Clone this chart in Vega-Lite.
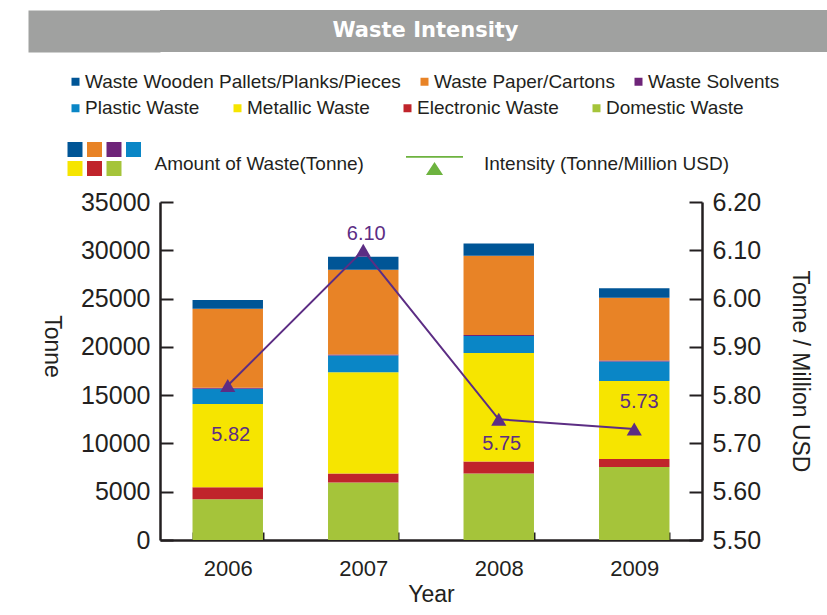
{
  "$schema": "https://vega.github.io/schema/vega-lite/v6.json",
  "background": "white",
  "padding": {"left": 7, "top": 10, "right": 0, "bottom": 0},
  "spacing": 20,
  "resolve": {"legend": {"shape": "independent", "color": "independent"}},
  "datasets": {
    "waste": [
      {"year": "2006", "category": "Domestic Waste", "tonnes": 4220},
      {"year": "2006", "category": "Electronic Waste", "tonnes": 1250},
      {"year": "2006", "category": "Metallic Waste", "tonnes": 8620},
      {"year": "2006", "category": "Plastic Waste", "tonnes": 1580},
      {"year": "2006", "category": "Waste Solvents", "tonnes": 100},
      {"year": "2006", "category": "Waste Paper/Cartons", "tonnes": 8170},
      {"year": "2006", "category": "Waste Wooden Pallets/Planks/Pieces", "tonnes": 920},
      {"year": "2007", "category": "Domestic Waste", "tonnes": 5960},
      {"year": "2007", "category": "Electronic Waste", "tonnes": 930},
      {"year": "2007", "category": "Metallic Waste", "tonnes": 10490},
      {"year": "2007", "category": "Plastic Waste", "tonnes": 1730},
      {"year": "2007", "category": "Waste Solvents", "tonnes": 100},
      {"year": "2007", "category": "Waste Paper/Cartons", "tonnes": 8770},
      {"year": "2007", "category": "Waste Wooden Pallets/Planks/Pieces", "tonnes": 1350},
      {"year": "2008", "category": "Domestic Waste", "tonnes": 6890},
      {"year": "2008", "category": "Electronic Waste", "tonnes": 1250},
      {"year": "2008", "category": "Metallic Waste", "tonnes": 11220},
      {"year": "2008", "category": "Plastic Waste", "tonnes": 1770},
      {"year": "2008", "category": "Waste Solvents", "tonnes": 100},
      {"year": "2008", "category": "Waste Paper/Cartons", "tonnes": 8210},
      {"year": "2008", "category": "Waste Wooden Pallets/Planks/Pieces", "tonnes": 1250},
      {"year": "2009", "category": "Domestic Waste", "tonnes": 7550},
      {"year": "2009", "category": "Electronic Waste", "tonnes": 850},
      {"year": "2009", "category": "Metallic Waste", "tonnes": 8060},
      {"year": "2009", "category": "Plastic Waste", "tonnes": 2020},
      {"year": "2009", "category": "Waste Solvents", "tonnes": 100},
      {"year": "2009", "category": "Waste Paper/Cartons", "tonnes": 6500},
      {"year": "2009", "category": "Waste Wooden Pallets/Planks/Pieces", "tonnes": 1000}
    ],
    "intensity": [
      {"year": "2006", "intensity": 5.82},
      {"year": "2007", "intensity": 6.10},
      {"year": "2008", "intensity": 5.75},
      {"year": "2009", "intensity": 5.73}
    ],
    "heading": [
      {"title": "Waste Intensity"}
    ]
  },
  "config": {
    "font": "Liberation Sans",
    "view": {"stroke": null},
    "axis": {
      "labelFont": "Liberation Sans",
      "titleFont": "Liberation Sans",
      "labelColor": "#231f20",
      "titleColor": "#231f20",
      "domainColor": "#231f20",
      "tickColor": "#231f20",
      "titleFontWeight": "normal",
      "grid": false,
      "domainWidth": 2.5,
      "tickWidth": 2
    },
    "legend": {
      "labelFont": "Liberation Sans",
      "titleFont": "Liberation Sans",
      "labelFontSize": 19,
      "labelColor": "#231f20",
      "titleColor": "#231f20",
      "titleFontWeight": "normal",
      "labelLimit": 400,
      "titleLimit": 400,
      "padding": 0
    }
  },
  "vconcat": [
    {
      "width": 667,
      "height": 42,
      "view": {"fill": "#a0a1a0", "stroke": null},
      "data": {"name": "heading"},
      "mark": {"type": "text", "font": "DejaVu Sans", "fontWeight": "bold", "fontSize": 21, "color": "white", "align": "center", "baseline": "middle", "dx": -68},
      "encoding": {
        "text": {"field": "title"},
        "y": {
          "field": "title", "type": "nominal",
          "axis": {
            "title": null, "labels": false, "domain": false,
            "tickSize": 132, "tickWidth": 42, "tickColor": "#a0a1a0", "tickCap": "butt"
          }
        }
      }
    },
    {
      "width": 542,
      "height": 338,
      "layer": [
        {
          "data": {"name": "waste"},
          "transform": [{"window": [{"op": "row_number", "as": "stack_rank"}]}],
          "mark": {"type": "bar"},
          "encoding": {
            "x": {
              "field": "year", "type": "ordinal",
              "scale": {"paddingInner": 0.48, "paddingOuter": 0.24},
              "axis": {
                "title": "Year", "titleFontSize": 23, "labelFontSize": 22, "labelAngle": 0,
                "tickSize": -8, "tickBand": "extent", "labelPadding": 26, "titlePadding": 4
              }
            },
            "y": {
              "field": "tonnes", "type": "quantitative", "stack": "zero",
              "scale": {"domain": [0, 35000], "nice": false},
              "axis": {
                "title": "Tonne", "titleAngle": 90, "titleBaseline": "top", "titleFontSize": 23, "labelFontSize": 25,
                "values": [0, 5000, 10000, 15000, 20000, 25000, 30000, 35000],
                "format": "d", "tickSize": -13, "labelPadding": 23, "titlePadding": 18, "titleY": 144
              }
            },
            "color": {
              "field": "category", "type": "nominal",
              "scale": {
                "domain": ["Waste Wooden Pallets/Planks/Pieces", "Waste Paper/Cartons", "Waste Solvents", "Plastic Waste", "Metallic Waste", "Electronic Waste", "Domestic Waste"],
                "range": ["#005596", "#e88326", "#6e2479", "#0a86c6", "#f6e500", "#c0242b", "#a5c43a"]
              },
              "legend": {
                "title": "Amount of Waste(Tonne)", "titleOrient": "right", "titleFontSize": 19,
                "titlePadding": 13, "titleAnchor": "middle", "titleBaseline": "line-top", "titleLineHeight": 10.5,
                "direction": "horizontal", "columns": 4,
                "symbolType": "square", "symbolSize": 225, "symbolStrokeWidth": 0,
                "labelExpr": "''", "labelFontSize": 1, "labelOffset": 0,
                "columnPadding": 4.5, "rowPadding": 4,
                "orient": "none", "legendX": -92.5, "legendY": -60
              }
            },
            "order": {"field": "stack_rank", "type": "quantitative"}
          }
        },
        {
          "data": {"name": "waste"},
          "transform": [{"filter": "false"}],
          "mark": {"type": "square"},
          "encoding": {
            "color": {
              "field": "category", "type": "nominal",
              "scale": {
                "domain": ["Waste Wooden Pallets/Planks/Pieces", "Waste Paper/Cartons", "Waste Solvents"],
                "range": ["#005596", "#e88326", "#6e2479"]
              },
              "legend": {
                "title": null, "direction": "horizontal", "columns": 3,
                "symbolType": "square", "symbolSize": 64, "symbolStrokeWidth": 0, "symbolOpacity": 1,
                "labelOffset": 0, "columnPadding": 14,
                "orient": "none", "legendX": -94, "legendY": -130
              }
            }
          }
        },
        {
          "data": {"name": "waste"},
          "transform": [{"filter": "false"}],
          "mark": {"type": "square"},
          "encoding": {
            "color": {
              "field": "category", "type": "nominal",
              "scale": {
                "domain": ["Plastic Waste", "Metallic Waste", "Electronic Waste", "Domestic Waste"],
                "range": ["#0a86c6", "#f6e500", "#c0242b", "#a5c43a"]
              },
              "legend": {
                "title": null, "direction": "horizontal", "columns": 4,
                "symbolType": "square", "symbolSize": 64, "symbolStrokeWidth": 0, "symbolOpacity": 1,
                "labelOffset": 0, "columnPadding": 28,
                "orient": "none", "legendX": -94, "legendY": -103.5
              }
            }
          }
        },
        {
          "data": {"name": "intensity"},
          "transform": [{"filter": "false"}],
          "mark": {"type": "point", "filled": true, "color": "#6db33f"},
          "encoding": {
            "shape": {
              "datum": "Intensity (Tonne/Million USD)",
              "scale": {"range": ["M-1,-0.285H1V-0.215H-1Z M-0.3,0.39L0,-0.07L0.3,0.39Z"]},
              "legend": {
                "title": null, "symbolSize": 3249, "symbolOpacity": 1, "labelOffset": 20,
                "orient": "none", "legendX": 245, "legendY": -67.5
              }
            }
          }
        },
        {
          "data": {"name": "intensity"},
          "encoding": {
            "x": {"field": "year", "type": "ordinal"},
            "y": {
              "field": "intensity", "type": "quantitative",
              "scale": {"domain": [5.5, 6.2], "nice": false, "zero": false},
              "axis": {
                "orient": "right", "title": "Tonne / Million USD", "titleFontSize": 23, "labelFontSize": 25,
                "values": [5.5, 5.6, 5.7, 5.8, 5.9, 6.0, 6.1, 6.2],
                "format": ".2f", "tickSize": -13, "labelPadding": 23, "titlePadding": 27
              }
            }
          },
          "layer": [
            {"mark": {"type": "line", "color": "#5c2d84", "strokeWidth": 2}},
            {"mark": {"type": "point", "shape": "triangle-up", "filled": true, "size": 230, "color": "#5c2d84", "opacity": 1}},
            {
              "transform": [{"filter": "datum.year == '2007'"}],
              "mark": {"type": "text", "fontSize": 20, "color": "#5c2d84", "dy": -16, "dx": 3},
              "encoding": {"text": {"field": "intensity", "type": "quantitative", "format": ".2f"}}
            },
            {
              "transform": [{"filter": "datum.year == '2009'"}],
              "mark": {"type": "text", "fontSize": 20, "color": "#5c2d84", "dy": -27, "dx": 5},
              "encoding": {"text": {"field": "intensity", "type": "quantitative", "format": ".2f"}}
            },
            {
              "transform": [{"filter": "datum.year == '2008'"}],
              "mark": {"type": "text", "fontSize": 20, "color": "#5c2d84", "dy": 25, "dx": 3},
              "encoding": {"text": {"field": "intensity", "type": "quantitative", "format": ".2f"}}
            },
            {
              "transform": [{"filter": "datum.year == '2006'"}],
              "mark": {"type": "text", "fontSize": 20, "color": "#5c2d84", "dy": 50, "dx": 3},
              "encoding": {"text": {"field": "intensity", "type": "quantitative", "format": ".2f"}}
            }
          ]
        }
      ],
      "resolve": {
        "scale": {"y": "independent", "color": "independent"},
        "legend": {"color": "independent", "shape": "independent"}
      }
    }
  ]
}
